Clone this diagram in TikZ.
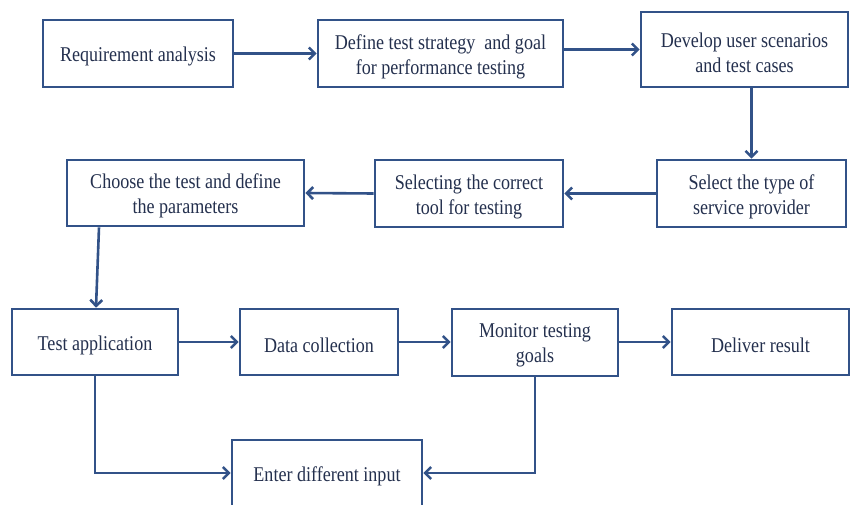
\documentclass[tikz,border=0pt]{standalone}
\usepackage{fontspec}
\setmainfont{Liberation Serif}[FakeStretch=0.86]
\usetikzlibrary{arrows.meta}
\definecolor{boxblue}{RGB}{50,82,136}
\definecolor{txtblue}{RGB}{36,48,78}
\tikzset{
  stepbox/.style={draw=boxblue, line width=2.6pt, fill=white, rectangle, inner sep=0pt},
  steptext/.style={align=center, text=txtblue, font=\fontsize{21}{25}\selectfont, yshift=-3pt, inner sep=0pt},
  flow/.style={draw=boxblue, line width=2.6pt,
    -{Straight Barb[length=6pt,width=12pt,line width=2.6pt]}}
}
\begin{document}
\begin{tikzpicture}[x=1pt,y=-1pt]
\useasboundingbox (0,0) rectangle (850,505);
\node[stepbox, minimum width=190pt, minimum height=67pt,
  label={[steptext]center:Requirement analysis}] (req) at (138,53.5) {};
\node[stepbox, minimum width=245pt, minimum height=67pt,
  label={[steptext]center:{Define test strategy~ and goal\\for performance testing}}] (def) at (440.5,53.5) {};
\node[stepbox, minimum width=207pt, minimum height=75pt,
  label={[steptext]center:{Develop user scenarios\\and test cases}}] (dev) at (744.5,49.5) {};
\node[stepbox, minimum width=189pt, minimum height=67pt,
  label={[steptext]center:{Select the type of\\service provider}}] (sel) at (751.5,193.5) {};
\node[stepbox, minimum width=188pt, minimum height=67pt,
  label={[steptext]center:{Selecting the correct\\tool for testing}}] (tool) at (469,193.5) {};
\node[stepbox, minimum width=237pt, minimum height=66pt,
  label={[steptext]center:{Choose the test and define\\the parameters}}] (choose) at (185.5,193) {};
\node[stepbox, minimum width=166pt, minimum height=66pt,
  label={[steptext]center:Test application}] (testapp) at (95,342) {};
\node[stepbox, minimum width=158pt, minimum height=66pt,
  label={[steptext]center:Data collection}] (data) at (319,342) {};
\node[stepbox, minimum width=166pt, minimum height=67pt,
  label={[steptext]center:{Monitor testing\\goals}}] (monitor) at (535,342.5) {};
\node[stepbox, minimum width=177pt, minimum height=66pt,
  label={[steptext]center:Deliver result}] (deliver) at (760.5,342) {};
\node[stepbox, minimum width=190pt, minimum height=66pt,
  label={[steptext]center:Enter different input}] (enter) at (327,473) {};

\draw[flow] (req.east) -- (def.west);
\draw[flow] (def.east |- dev.west) -- (dev.west);
\draw[flow] (sel.north |- dev.south) -- (sel.north);
\draw[flow] (sel.west) -- (tool.east);
\draw[flow] (tool.west) -- (choose.east);
\draw[flow] ([xshift=-86.5pt]choose.south) -- ([xshift=1pt]testapp.north);
\draw[flow] (testapp.east) -- (data.west);
\draw[flow] (data.east) -- (data.east -| monitor.west);
\draw[flow] (monitor.east |- deliver.west) -- (deliver.west);
\draw[flow] (testapp.south) |- (enter.west);
\draw[flow] (monitor.south) |- (enter.east);
\end{tikzpicture}
\end{document}
